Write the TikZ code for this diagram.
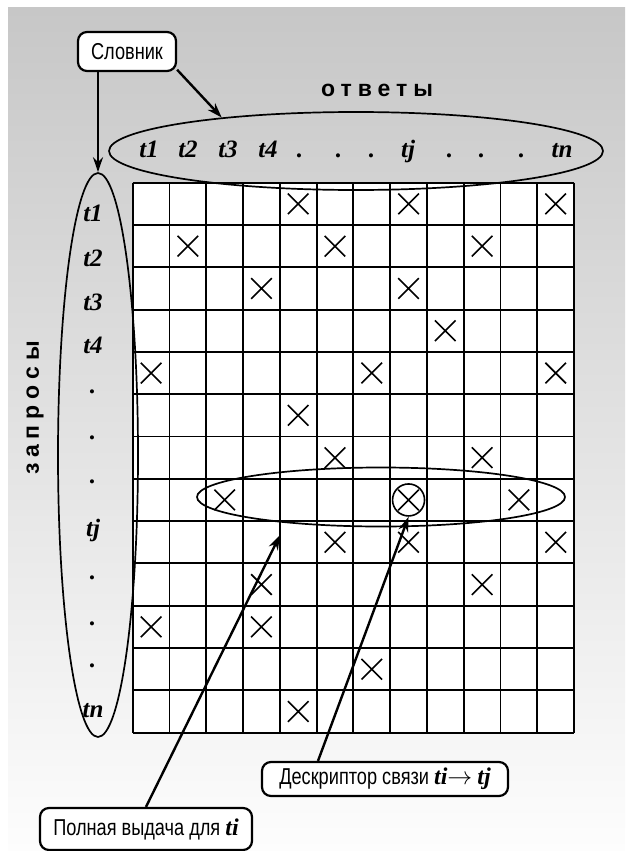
\documentclass[tikz,border=0pt]{standalone}
\usepackage{fontspec}
\setmainfont{Liberation Serif}
\newfontfamily\narrowfont[FakeStretch=0.79]{Liberation Sans}
\newfontfamily\spacedfont[LetterSpace=26]{Liberation Sans}
\usetikzlibrary{positioning,shapes.geometric,shapes.misc,arrows.meta}

\newcommand{\termit}[1]{{\rmfamily\bfseries\itshape\fontsize{24}{26}\selectfont #1}}

\begin{document}
\begin{tikzpicture}[x=1pt, y=-1pt,
  box/.style={draw, rounded corners=9pt, line width=2.2pt, fill=white, inner sep=0pt, font=\narrowfont\fontsize{23}{26}\selectfont},
  arr/.style={-{Stealth[length=15pt,width=10pt]}, line width=2.4pt},
  oval/.style={draw, ellipse, line width=1.7pt, inner sep=0pt},
  lbl/.style={anchor=base, font=\bfseries\itshape\fontsize{25}{28}\selectfont},
  head/.style={font=\spacedfont\bfseries\fontsize{23}{26}\selectfont},
  xmark/.style={draw, cross out, line width=1.6pt, minimum size=19pt, inner sep=0pt},
  cell/.style={line width=1.9pt}
]
  \useasboundingbox (0,0) rectangle (625,851);
  \shade[top color={rgb,255:red,199;green,199;blue,199}, bottom color={rgb,255:red,253;green,253;blue,253}] (8,8) rectangle (625,851);

  % ===== MATRIX =====
  \fill[white] (132.7,182.7) rectangle (574,732.7);
  \foreach \i in {0,...,12}
    \draw[cell] ({132.7+\i*36.78},182.7) -- ({132.7+\i*36.78},732.7);
  \foreach \j in {0,...,13}
    \draw[cell] (132.7,{182.7+\j*42.3}) -- (574,{182.7+\j*42.3});

  % hits (column/row)
  \foreach \c/\r in {5/1,8/1,12/1, 2/2,6/2,10/2, 4/3,8/3, 9/4, 1/5,7/5,12/5, 5/6,
                     6/7,10/7, 3/8,8/8,11/8, 6/9,8/9,12/9, 4/10,10/10, 1/11,4/11, 7/12, 5/13}
    \node[xmark] (x\c-\r) at ({132.7+(\c-0.5)*36.78},{182.7+(\r-0.5)*42.3}) {};

  % ===== ANSWERS =====
  \node[head] (ansTitle) at (377,90) {ответы};
  \node[oval, minimum width=494pt, minimum height=78pt] (ans) at (356,151) {};
  \foreach \x/\t in {149/t1, 188/t2, 228/t3, 268/t4, 300/., 339/., 372/., 408/tj, 450/., 482/., 522/., 562/tn}
    \node[lbl] (a\x) at (\x,157) {\t};

  % ===== QUERIES =====
  \node[head, rotate=90] (qryTitle) at (35,408) {запросы};
  \node[oval, minimum width=80pt, minimum height=564pt] (qry) at (98,455) {};
  \foreach \y/\t [count=\k] in {221/t1, 266/t2, 310/t3, 353/t4, 393/., 439/., 483/., 536/tj, 579/., 625/., 667/., 717/tn}
    \node[lbl] (q\k) at (93,\y) {\t};

  % row of ti
  \node[oval, minimum width=368pt, minimum height=59pt] (row) at (381,497) {};
  \node[draw, circle, line width=1.6pt, minimum size=32pt, inner sep=0pt] (hit) at (x8-8) {};

  % ===== LABELS =====
  \node[box, minimum width=98pt, minimum height=39pt] (slov) at (127,51.5) {Словник};
  \node[box, minimum width=246pt, minimum height=34pt] (desc) at (385,779) {Дескриптор связи \termit{ti}$\rightarrow$ \termit{tj}};
  \node[box, minimum width=212pt, minimum height=42pt] (full) at (146,829) {Полная выдача для \termit{ti}};
  \coordinate (fullTip) at (280,535);

  \draw[arr] (slov.south -| qry.north) -- (qry.north);
  \draw[arr] (slov.-20) -- (ans.166);
  \draw[arr] (full.north) -- (fullTip);
  \draw[arr] ([xshift=-67pt]desc.north) -- (hit.south);
\end{tikzpicture}
\end{document}
